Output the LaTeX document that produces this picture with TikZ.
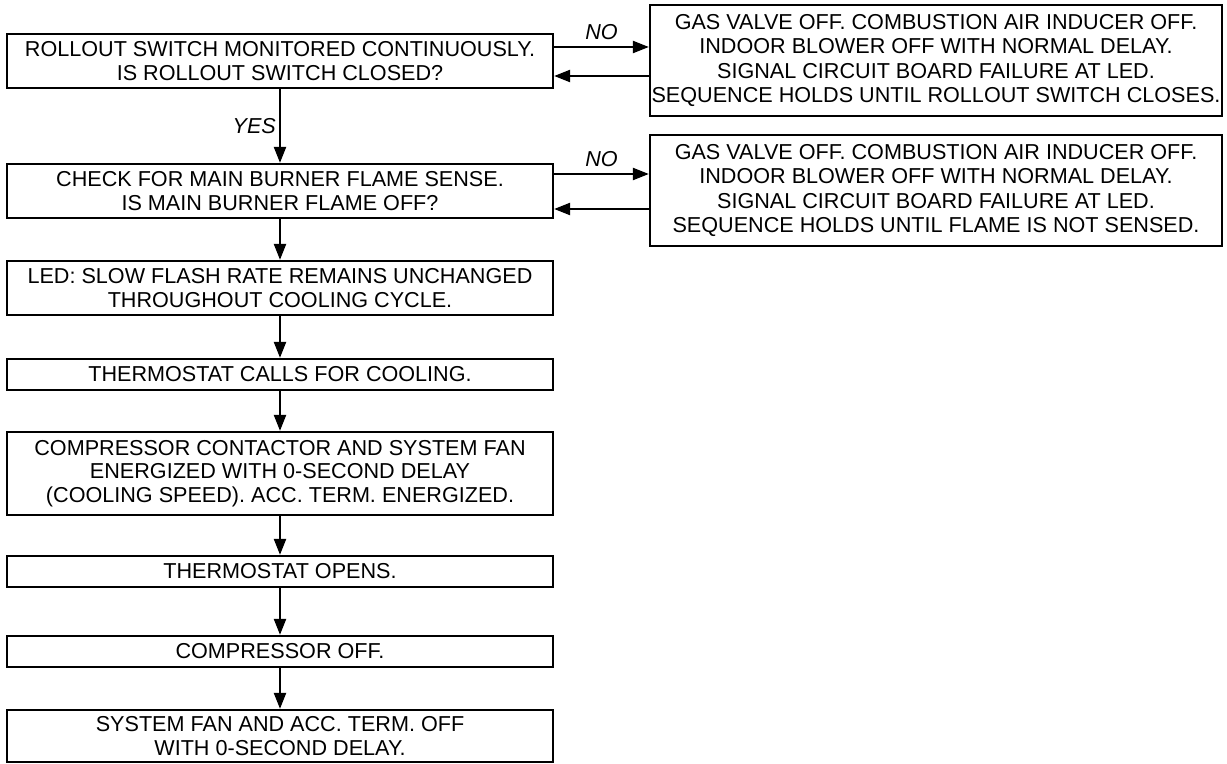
\documentclass[tikz,border=0pt]{standalone}
\usepackage{fontspec}
\setmainfont{Liberation Sans}
\usetikzlibrary{arrows.meta}
\begin{document}
\begin{tikzpicture}[x=0.5pt,y=-0.5pt,
  box/.style={draw,line width=1.1pt,minimum width=273pt,inner sep=0pt,align=center,
    font=\fontsize{10.8pt}{11.6pt}\selectfont},
  rbox/.style={draw,line width=1.1pt,minimum width=286pt,minimum height=55.5pt,inner sep=0pt,align=center,
    font=\fontsize{10.8pt}{12.2pt}\selectfont},
  arr/.style={-{Triangle[length=8pt,width=6pt]},line width=1.1pt},
  lab/.style={font=\fontsize{10.8pt}{12pt}\selectfont\itshape}]
\useasboundingbox (0,0) rectangle (1227,764);

\node[box,minimum height=27pt] (b1) at (280,61) {ROLLOUT SWITCH MONITORED CONTINUOUSLY.\\IS ROLLOUT SWITCH CLOSED?};
\node[box,minimum height=27pt] (b2) at (280,191) {CHECK FOR MAIN BURNER FLAME SENSE.\\IS MAIN BURNER FLAME OFF?};
\node[box,minimum height=27pt] (b3) at (280,288) {LED: SLOW FLASH RATE REMAINS UNCHANGED\\THROUGHOUT COOLING CYCLE.};
\node[box,minimum height=15.5pt] (b4) at (280,374.5) {THERMOSTAT CALLS FOR COOLING.};
\node[box,minimum height=41.5pt] (b5) at (280,473.5) {COMPRESSOR CONTACTOR AND SYSTEM FAN\\ENERGIZED WITH 0-SECOND DELAY\\(COOLING SPEED). ACC. TERM. ENERGIZED.};
\node[box,minimum height=15.5pt] (b6) at (280,571.5) {THERMOSTAT OPENS.};
\node[box,minimum height=15.5pt] (b7) at (280,651.5) {COMPRESSOR OFF.};
\node[box,minimum height=26pt] (b8) at (280,736) {SYSTEM FAN AND ACC. TERM. OFF\\WITH 0-SECOND DELAY.};

\node[rbox] (r1) at (936,60.5) {GAS VALVE OFF. COMBUSTION AIR INDUCER OFF.\\INDOOR BLOWER OFF WITH NORMAL DELAY.\\SIGNAL CIRCUIT BOARD FAILURE AT LED.\\SEQUENCE HOLDS UNTIL ROLLOUT SWITCH CLOSES.};
\node[rbox] (r2) at (936,190.5) {GAS VALVE OFF. COMBUSTION AIR INDUCER OFF.\\INDOOR BLOWER OFF WITH NORMAL DELAY.\\SIGNAL CIRCUIT BOARD FAILURE AT LED.\\SEQUENCE HOLDS UNTIL FLAME IS NOT SENSED.};

\draw[arr] ([yshift=7pt]b1.east) -- ([yshift=7pt]b1.east -| r1.west) node[lab,midway,above] {NO};
\draw[arr] ([yshift=-7.5pt]b1.east -| r1.west) -- ([yshift=-7.5pt]b1.east);
\draw[arr] ([yshift=8.5pt]b2.east) -- ([yshift=8.5pt]b2.east -| r2.west) node[lab,midway,above] {NO};
\draw[arr] ([yshift=-9pt]b2.east -| r2.west) -- ([yshift=-9pt]b2.east);

\draw[arr] (b1) -- (b2) node[lab,midway,left,inner sep=1.5pt] {YES};
\draw[arr] (b2) -- (b3);
\draw[arr] (b3) -- (b4);
\draw[arr] (b4) -- (b5);
\draw[arr] (b5) -- (b6);
\draw[arr] (b6) -- (b7);
\draw[arr] (b7) -- (b8);
\end{tikzpicture}
\end{document}
